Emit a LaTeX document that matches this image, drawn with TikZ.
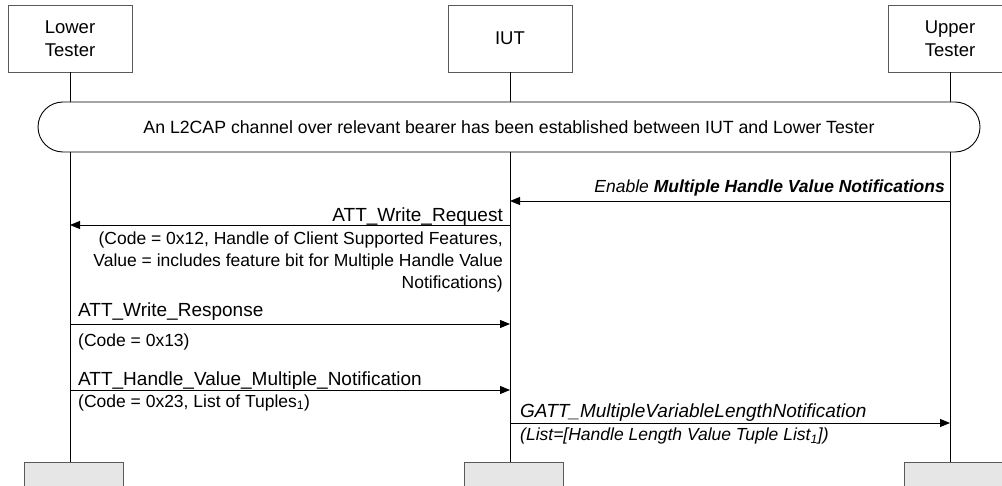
\documentclass[tikz,border=0pt]{standalone}
\usepackage{fontspec}
\setmainfont{Liberation Sans}
\usetikzlibrary{arrows.meta}

\definecolor{hdrgray}{RGB}{90,90,90}
\definecolor{endgray}{RGB}{230,230,230}

\begin{document}
\begin{tikzpicture}[x=1pt, y=-1pt,
  entity/.style={draw=hdrgray, line width=0.9pt, minimum width=124pt, minimum height=67pt,
    inner sep=0pt, align=center, font=\fontsize{18.5}{23.5}\selectfont},
  endbox/.style={draw=hdrgray, fill=endgray, line width=0.9pt, minimum width=99pt, minimum height=40pt},
  life/.style={line width=0.9pt},
  msg/.style={line width=0.9pt, -{Triangle[length=10pt,width=8pt]}},
  lbl/.style={inner sep=0pt, font=\fontsize{19}{23}\selectfont},
  note/.style={inner sep=0pt, font=\fontsize{17.5}{22}\selectfont}]
\useasboundingbox (0,0) rectangle (1002,486);
\clip (0,0) rectangle (1002,486);

% entities and their end boxes
\node[entity] (lt) at (70,38.5) {Lower\\Tester};
\node[entity] (iut) at (510,38.5) {IUT};
\node[entity] (ut) at (950,38.5) {Upper\\Tester};
\node[endbox] (lt-end) at (73.5,482) {};
\node[endbox] (iut-end) at (513.5,482) {};
\node[endbox] (ut-end) at (953.5,482) {};

% lifelines
\foreach \e in {lt,iut,ut}
  \draw[life] (\e.south) -- (\e.south |- \e-end.north);

% precondition
\node[draw, fill=white, line width=0.9pt, rounded corners=25pt, minimum width=942pt,
  minimum height=50pt, font=\fontsize{17.7}{22}\selectfont] (setup) at (509,127)
  {An L2CAP channel over relevant bearer has been established between IUT and Lower Tester};

% Upper Tester -> IUT
\draw[msg] (ut.south |- 0,201) -- (iut.south |- 0,201);
\node[note, anchor=base east] (enable) at (945,192.5)
  {\textit{Enable \textbf{Multiple Handle Value Notifications}}};

% IUT -> Lower Tester
\draw[msg] (iut.south |- 0,225) -- (lt.south |- 0,225);
\node[lbl, anchor=base east] (wreq) at (503,222) {ATT\_Write\_Request};
\node[note, anchor=north east, align=right] (wreq-p) at (503,232)
  {(Code = 0x12, Handle of Client Supported Features,\\
   Value = includes feature bit for Multiple Handle Value\\
   Notifications)};

% Lower Tester -> IUT
\draw[msg] (lt.south |- 0,324) -- (iut.south |- 0,324);
\node[lbl, anchor=base west] (wrsp) at (78,316.7) {ATT\_Write\_Response};
\node[note, anchor=base west] (wrsp-p) at (78,346.7) {(Code = 0x13)};

\draw[msg] (lt.south |- 0,390) -- (iut.south |- 0,390);
\node[lbl, anchor=base west] (hvmn) at (78,385) {ATT\_Handle\_Value\_Multiple\_Notification};
\node[note, anchor=base west] (hvmn-p) at (78,407) {(Code = 0x23, List of Tuples\textsubscript{1})};

% IUT -> Upper Tester
\draw[msg] (iut.south |- 0,423) -- (ut.south |- 0,423);
\node[lbl, anchor=base west] (gatt) at (520,417.7) {\textit{GATT\_MultipleVariableLengthNotification}};
\node[note, anchor=base west] (gatt-p) at (520,440.7)
  {\textit{(List=[Handle Length Value Tuple List\textsubscript{1}])}};
\end{tikzpicture}
\end{document}
